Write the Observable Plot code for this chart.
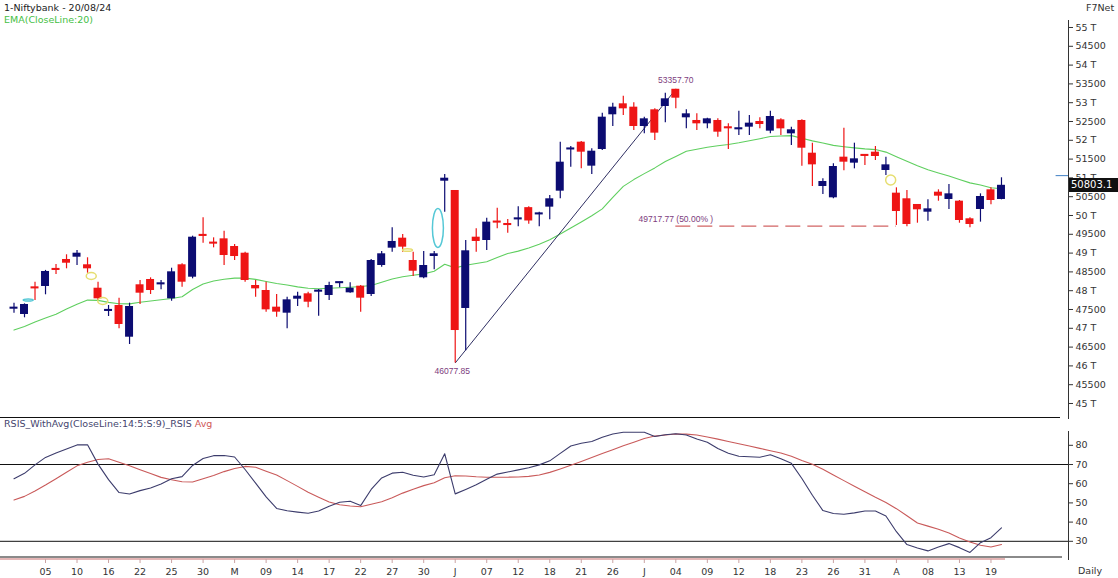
<!DOCTYPE html>
<html><head><meta charset="utf-8">
<script src="https://cdn.jsdelivr.net/npm/d3@7"></script>
<script src="https://cdn.jsdelivr.net/npm/@observablehq/plot@0.6"></script>
<style>
body{margin:0;background:#fff;}
#wrap{position:relative;width:1118px;height:578px;overflow:hidden;font-family:"DejaVu Sans",Verdana,sans-serif;background:#fff;}
.t{position:absolute;white-space:nowrap;font-size:9.5px;line-height:10px;}
.ln{position:absolute;}
#price,#rsi{position:absolute;left:0;}
#price{top:0;}
#rsi{top:431px;}
#rsi g[aria-label="x-axis tick"]{stroke:#c9a3a3;}
</style></head><body>
<div id="wrap">
  <div class="t" style="left:4px;top:3px;color:#222;">1-Niftybank - 20/08/24</div>
  <div class="t" style="left:4px;top:15px;color:#45c045;">EMA(CloseLine:20)</div>
  <div class="t" style="left:1086px;top:3px;color:#333;">F7Net</div>
  <div class="t" style="left:4px;top:419px;color:#45456e;">RSIS_WithAvg(CloseLine:14:5:S:9)_RSIS <span style="color:#d05858">Avg</span></div>
  <div class="t" style="left:1078px;top:566px;color:#333;">Daily</div>
  <div class="ln" style="left:0;top:417px;width:1060px;height:1px;background:#111;"></div>
  <div class="ln" style="left:0;top:556px;width:1062px;height:1.5px;background:#8a8a8a;"></div>
  <div class="ln" style="left:0;top:558px;width:1005px;height:1.5px;background:#e4b6b6;"></div>
  <div id="price"></div>
  <div id="rsi"></div>
</div>
<script>
// ---------- data ----------
const dates = [
 "2024-04-02","2024-04-03","2024-04-04","2024-04-05","2024-04-08","2024-04-09","2024-04-10","2024-04-12","2024-04-15","2024-04-16",
 "2024-04-18","2024-04-19","2024-04-22","2024-04-23","2024-04-24","2024-04-25","2024-04-26","2024-04-29","2024-04-30","2024-05-02",
 "2024-05-03","2024-05-06","2024-05-07","2024-05-08","2024-05-09","2024-05-10","2024-05-13","2024-05-14","2024-05-15","2024-05-16",
 "2024-05-17","2024-05-18","2024-05-21","2024-05-22","2024-05-23","2024-05-24","2024-05-27","2024-05-28","2024-05-29","2024-05-30",
 "2024-05-31","2024-06-03","2024-06-04","2024-06-05","2024-06-06","2024-06-07","2024-06-10","2024-06-11","2024-06-12","2024-06-13",
 "2024-06-14","2024-06-18","2024-06-19","2024-06-20","2024-06-21","2024-06-24","2024-06-25","2024-06-26","2024-06-27","2024-06-28",
 "2024-07-01","2024-07-02","2024-07-03","2024-07-04","2024-07-05","2024-07-08","2024-07-09","2024-07-10","2024-07-11","2024-07-12",
 "2024-07-15","2024-07-16","2024-07-18","2024-07-19","2024-07-22","2024-07-23","2024-07-24","2024-07-25","2024-07-26","2024-07-29",
 "2024-07-30","2024-07-31","2024-08-01","2024-08-02","2024-08-05","2024-08-06","2024-08-07","2024-08-08","2024-08-09","2024-08-12",
 "2024-08-13","2024-08-14","2024-08-16","2024-08-19","2024-08-20"];

const open = [
 47525,47367,48085,48112,48575,48830,48891,48689,48066,47465,
 47606,46763,48157,48298,48175,47784,48689,48359,49480,49275,
 49379,49175,48997,48138,48005,47562,47402,47774,47917,47980,
 47872,48210,47943,48120,47899,48670,49131,49397,48803,48343,
 48910,50912,50665,47527,49423,49335,49835,49770,49900,50209,
 50035,50222,50647,51760,51950,51312,51755,52678,52970,52881,
 52367,52811,52899,53357,52598,52527,52438,52527,52340,52300,
 52349,52500,52243,52544,52172,52527,51657,50771,50470,51551,
 51392,51605,51684,51197,50594,50444,50293,50088,50620,50426,
 50381,49912,50160,50683,50426];
const high = [
 47668,47650,48226,48540,48697,48955,49069,48875,48226,47606,
 47800,47668,48271,48342,48271,48598,48715,49450,49938,49406,
 49583,49229,49025,48271,48226,47900,47828,47961,47961,48032,
 48226,48225,48209,48138,48830,49043,49672,49495,49025,49043,
 49043,51090,50665,49335,49645,49929,50190,49894,50231,50231,
 50088,50532,51950,51835,51968,51772,52721,52987,53174,52997,
 52615,52837,53253,53357.7,52811,52704,52588,52571,52438,52774,
 52660,52598,52774,52571,52350,52544,51923,50976,51374,52322,
 51923,51622,51835,51551,50736,50665,50293,50417,50683,50824,
 50399,49939,50576,50736,51003];
const low = [
 47402,47279,47739,47891,48431,48582,48670,48465,47739,47314,
 46987,46569,47633,47899,48023,47720,48093,48316,49264,49140,
 48670,48803,48226,47828,47429,47296,46987,47580,47544,47322,
 47739,48076,47934,47429,47846,48625,49025,49025,48378,48316,
 48555,50088,46077.85,46400,49025,49069,49645,49530,49699,49770,
 49699,49885,50444,51285,51241,51090,51729,52367,52660,52261,
 52172,51995,52465,52837,52305,52261,52305,52083,51755,52128,
 52128,52305,52172,52128,51862,51312,50771,50559,50444,51188,
 51241,51330,51463,51064,49734,49699,49795,49849,50380,50160,
 49795,49672,49823,50284,50417];
const close = [
 47545,47633,48065,48511,48555,48731,48997,48582,47784,47485,
 47101,47580,47934,48005,48190,48502,48226,49423,49460,49255,
 48936,48909,48271,48049,47491,47429,47757,47854,47694,47995,
 48138,48218,48066,47801,48803,48981,49309,49158,48518,48670,
 48981,50992,46941,49061,49309,49823,49815,49750,49920,49854,
 50050,50444,51418,51780,51684,51710,52615,52881,52837,52367,
 52571,52190,53103,53120,52704,52438,52571,52216,52325,52312,
 52456,52420,52633,52305,52279,51790,51347,50904,51303,51418,
 51507,51590,51569,51347,50106,49761,50151,50177,50514,50576,
 49867,49761,50505,50399,50803.1];
const ema20 = [
 46952,47048,47168,47274,47372,47513,47638,47750,47742,47689,
 47654,47649,47694,47726,47761,47793,47840,48032,48178,48258,
 48303,48335,48335,48301,48245,48192,48152,48101,48067,48053,
 48064,48077,48093,48112,48138,48226,48309,48370,48410,48447,
 48516,48702,48607,48678,48724,48771,48883,48989,49053,49133,
 49234,49354,49508,49670,49827,49992,50176,50479,50774,50955,
 51114,51266,51434,51572,51710,51763,51814,51854,51888,51934,
 51990,52043,52099,52115,52125,52053,51984,51928,51865,51830,
 51798,51771,51753,51686,51561,51442,51325,51216,51130,51048,
 50955,50867,50811,50737,50710];
const rsi = [
 62.6,65.4,69.8,73.7,76.0,78.1,80.2,80.3,70.2,62.1,
 55.4,54.6,56.4,57.8,59.9,62.6,63.7,69.5,73.1,74.6,
 74.7,73.9,67.4,60.3,53.1,47.1,45.9,45.2,44.6,45.8,
 48.3,50.3,50.9,48.6,57.0,63.0,65.5,66.0,64.4,63.5,
 64.7,75.6,54.7,57.0,59.4,62.3,65.0,66.1,67.2,68.3,
 69.8,71.9,75.8,79.6,81.1,82.0,84.2,85.9,86.8,86.8,
 86.8,84.6,85.5,86.0,85.4,83.3,81.6,78.3,75.9,74.3,
 74.0,73.8,75.1,73.0,70.6,62.7,54.0,46.0,44.5,44.1,
 44.8,45.8,45.8,43.2,35.0,28.3,26.5,25.0,27.0,28.8,
 26.7,24.2,29.3,31.9,37.0];
const rsiAvg = [
 51.5,53.4,56.2,59.3,62.6,66.0,69.3,71.2,72.6,73.0,
 71.2,69.4,67.3,65.3,63.3,62.1,61.0,60.9,62.6,64.3,
 66.3,67.9,69.0,68.6,66.5,64.5,61.6,58.6,55.5,53.0,
 50.5,49.0,48.4,48.0,49.3,50.6,52.7,55.1,57.1,59.0,
 60.5,63.1,64.1,64.0,63.6,63.4,63.4,63.4,63.5,63.8,
 64.5,65.9,67.7,69.6,71.6,73.6,75.7,77.7,79.8,81.6,
 83.5,84.8,85.4,85.9,85.8,85.4,84.3,83.2,82.0,80.8,
 79.6,78.4,77.2,76.0,74.3,72.1,70.1,67.5,64.5,61.6,
 58.7,55.8,52.9,50.2,47.0,43.3,39.5,37.9,36.3,34.3,
 31.7,29.6,27.9,27.0,28.3];

const tickIdx = [3,6,9,12,15,18,21,24,27,30,33,36,39,42,45,48,51,54,57,60,63,66,69,72,75,78,81,84,87,90,93];
const tickLabels = ["05","10","16","22","25","30","M","09","14","17","22","27","30","J","07","12","18","21","26","J","04","09","12","18","23","26","31","A","08","13","19"];
const priceTicks = [45000,45500,46000,46500,47000,47500,48000,48500,49000,49500,50000,50500,51000,51500,52000,52500,53000,53500,54000,54500,55000];
const priceTickLabels = ["45 T","45500","46 T","46500","47 T","47500","48 T","48500","49 T","49500","50 T","50500","51 T","51500","52 T","52500","53 T","53500","54 T","54500","55 T"];
const rsiTicks = [30,40,50,60,70,80];
const rsiLevels = [70,30];

// annotations (data space)
const fibIndex = [42, 63];
const fibPrice = [46077.85, 53357.70];
const fibMidEnd = 84;
const annIndex = [63, 42, 63];
const annPrice = [53357.70, 46077.85, 49717.77];
const annText = ["53357.70", "46077.85", "49717.77 (50.00% )"];
const markerIndex = [1.4, 7.4, 8.5, 37.5, 40.4, 83.5];
const markerPrice = [47739, 48378, 47713, 49069, 49654, 50931];
const lastMarkPrice = 51060;

// ---------- build ----------
const NAVY = "#0c0c72", RED = "#ee1515";
const candles = dates.map((d, i) => ({i, date: d, o: open[i], h: high[i], l: low[i], c: close[i]}));
const up = candles.filter(d => d.c >= d.o);
const dn = candles.filter(d => d.c < d.o);
const bodyLo = d => { const a = Math.min(d.o, d.c), b = Math.max(d.o, d.c); return b - a < 55 ? (a + b) / 2 - 27.5 : a; };
const bodyHi = d => { const a = Math.min(d.o, d.c), b = Math.max(d.o, d.c); return b - a < 55 ? (a + b) / 2 + 27.5 : b; };
const emaData = ema20.map((v, i) => ({i, v}));
const fibMid = (fibPrice[0] + fibPrice[1]) / 2;
const anns = annText.map((t, k) => ({i: annIndex[k], p: annPrice[k], t}));
const xDomain = [-1.285, 100.38];
const font = "DejaVu Sans, Verdana, sans-serif";

const pricePlot = Plot.plot({
  width: 1118, height: 418,
  marginLeft: 0, marginRight: 50, marginTop: 20, marginBottom: 0,
  style: {fontFamily: font, fontSize: "9.5px", color: "#333", background: "transparent", overflow: "visible"},
  x: {domain: xDomain, axis: null},
  y: {domain: [44601, 55186], axis: "right", ticks: priceTicks,
      tickFormat: d => priceTickLabels[priceTicks.indexOf(d)], tickSize: 4, tickPadding: 3, line: true, label: null},
  marks: [
    Plot.line(emaData, {x: "i", y: "v", stroke: "#5fcf5f", strokeWidth: 1.1}),
    Plot.link([0], {x1: () => fibIndex[0], y1: () => fibPrice[0], x2: () => fibIndex[1], y2: () => fibPrice[1], stroke: "#2f2f62", strokeWidth: 1}),
    Plot.ruleY([fibMid], {x1: fibIndex[1], x2: fibMidEnd, stroke: "#d26464", strokeWidth: 1.4, strokeDasharray: "15,7"}),
    Plot.ruleX(up, {x: "i", y1: "l", y2: "h", stroke: NAVY, strokeWidth: 1.2}),
    Plot.ruleX(dn, {x: "i", y1: "l", y2: "h", stroke: RED, strokeWidth: 1.2}),
    Plot.rect(up, {x1: d => d.i - 0.38, x2: d => d.i + 0.38, y1: bodyLo, y2: bodyHi, fill: NAVY}),
    Plot.rect(dn, {x1: d => d.i - 0.38, x2: d => d.i + 0.38, y1: bodyLo, y2: bodyHi, fill: RED}),
    Plot.ruleY([lastMarkPrice], {x1: 99.2, x2: xDomain[1], stroke: "#3f7fc4", strokeWidth: 1}),
    Plot.text([anns[0]], {x: "i", y: "p", text: "t", dy: -9, fill: "#7d3c7d", fontSize: 8.5, fontFamily: "Liberation Sans, Arial, sans-serif"}),
    Plot.text([anns[1]], {x: "i", y: "p", text: "t", dy: 8, dx: -3, fill: "#7d3c7d", fontSize: 8.5, fontFamily: "Liberation Sans, Arial, sans-serif"}),
    Plot.text([anns[2]], {x: "i", y: "p", text: "t", dy: -6.5, fill: "#7d3c7d", fontSize: 8.5, fontFamily: "Liberation Sans, Arial, sans-serif"})
  ]
});
document.getElementById("price").appendChild(pricePlot);

// markers (ellipses) positioned through the plot's own scales
const sx = pricePlot.scale("x"), sy = pricePlot.scale("y");
const markerStyle = [
  {rx: 5, ry: 1, stroke: "#55c8d6"},
  {rx: 5, ry: 3.5, stroke: "#e6de70"},
  {rx: 5, ry: 3.5, stroke: "#e6de70"},
  {rx: 5, ry: 1.3, stroke: "#e6de70"},
  {rx: 5.5, ry: 19.5, stroke: "#55c8d6"},
  {rx: 5, ry: 5, stroke: "#e6de70"}
];
const svg = d3.select(pricePlot);
markerIndex.forEach((mi, k) => {
  const st = markerStyle[k];
  svg.append("ellipse")
    .attr("cx", sx.apply(mi)).attr("cy", sy.apply(markerPrice[k]))
    .attr("rx", st.rx).attr("ry", st.ry)
    .attr("fill", "none").attr("stroke", st.stroke).attr("stroke-width", 1.5);
});

// last price tag
const tag = document.createElement("div");
tag.className = "t";
tag.textContent = String(close[close.length - 1]);
Object.assign(tag.style, {left: "1069px", top: (sy.apply(close[close.length - 1]) - 7) + "px", width: "49px", height: "14px",
  lineHeight: "14px", background: "#111", color: "#fff", fontSize: "10px", paddingLeft: "2px", boxSizing: "border-box"});
document.getElementById("wrap").appendChild(tag);

// RSI panel
const rsiData = rsi.map((v, i) => ({i, v}));
const avgData = rsiAvg.map((v, i) => ({i, v}));
const labelOf = new Map(tickIdx.map((t, k) => [t, tickLabels[k]]));
const rsiPlot = Plot.plot({
  width: 1118, height: 147,
  marginLeft: 0, marginRight: 50, marginTop: 0, marginBottom: 19,
  style: {fontFamily: font, fontSize: "9.5px", color: "#333", background: "transparent", overflow: "visible"},
  x: {domain: xDomain, ticks: tickIdx, tickFormat: d => labelOf.get(d), tickSize: 4, tickPadding: 5, label: null},
  y: {domain: [20.52, 87.19], axis: "right", ticks: rsiTicks, tickSize: 4, tickPadding: 3, line: true, label: null},
  marks: [
    Plot.ruleY(rsiLevels, {stroke: "#111", strokeWidth: 1}),
    Plot.line(avgData, {x: "i", y: "v", stroke: "#c95a5a", strokeWidth: 1.1}),
    Plot.line(rsiData, {x: "i", y: "v", stroke: "#3c3c6c", strokeWidth: 1.1})
  ]
});
document.getElementById("rsi").appendChild(rsiPlot);
</script>
</body></html>
